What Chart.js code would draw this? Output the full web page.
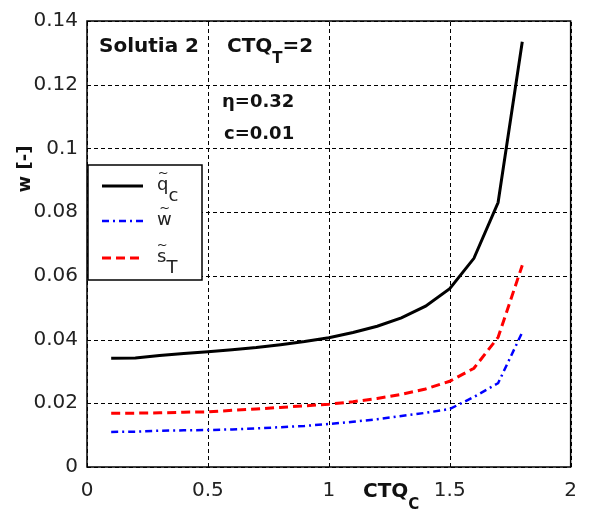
<!DOCTYPE html>
<html>
<head>
<meta charset="utf-8">
<script src="https://cdn.jsdelivr.net/npm/chart.js@4.4.0/dist/chart.umd.min.js"></script>
<style>
  html, body { margin: 0; padding: 0; background: #fff; }
  #wrap { width: 589px; height: 512px; }
</style>
</head>
<body>
<div id="wrap"><canvas id="chart" width="589" height="512"></canvas></div>
<script>
// CTQ_C values along the x axis
const ctqC = [0.1, 0.2, 0.3, 0.4, 0.5, 0.6, 0.7, 0.8, 0.9, 1.0, 1.1, 1.2, 1.3, 1.4, 1.5, 1.6, 1.7, 1.8];
// series
const qC = [0.0341, 0.0342, 0.0350, 0.0356, 0.0362, 0.0368, 0.0375, 0.0384, 0.0394, 0.0406, 0.0422, 0.0442, 0.0468, 0.0505, 0.0560, 0.0655, 0.0830, 0.1335];
const wT = [0.0110, 0.0111, 0.0114, 0.0115, 0.0116, 0.0118, 0.0121, 0.0125, 0.0129, 0.0135, 0.0142, 0.0150, 0.0160, 0.0170, 0.0182, 0.0220, 0.0263, 0.0423];
const sT = [0.0169, 0.0169, 0.0170, 0.0172, 0.0173, 0.0178, 0.0182, 0.0187, 0.0192, 0.0197, 0.0205, 0.0215, 0.0228, 0.0245, 0.0269, 0.0310, 0.0407, 0.0633];
const xTicks = [0, 0.5, 1, 1.5, 2];
const yTicks = [0, 0.02, 0.04, 0.06, 0.08, 0.1, 0.12, 0.14];

const FONT = '"DejaVu Sans", sans-serif';

function pts(ys) {
  return ctqC.map((x, i) => ({ x: x, y: ys[i] }));
}

// dashed grid drawn under the curves (MATLAB "grid on")
const dashedGrid = {
  id: 'dashedGrid',
  beforeDatasetsDraw(chart) {
    const { ctx, chartArea: a, scales } = chart;
    ctx.save();
    ctx.strokeStyle = '#000';
    ctx.lineWidth = 1;
    ctx.setLineDash([4, 3]);
    xTicks.forEach(v => {
      const px = Math.round(scales.x.getPixelForValue(v)) + 0.5;
      ctx.beginPath();
      ctx.moveTo(px, a.bottom);
      ctx.lineTo(px, a.top);
      ctx.stroke();
    });
    yTicks.forEach(v => {
      const py = Math.round(scales.y.getPixelForValue(v)) + 0.5;
      ctx.beginPath();
      ctx.moveTo(a.left, py);
      ctx.lineTo(a.right, py);
      ctx.stroke();
    });
    ctx.restore();
  }
};

// plot box, legend and the text notes
const overlay = {
  id: 'overlay',
  afterDatasetsDraw(chart) {
    const { ctx, chartArea: a } = chart;
    ctx.save();
    ctx.setLineDash([]);
    ctx.strokeStyle = '#000';
    ctx.lineWidth = 1.5;
    ctx.strokeRect(a.left, a.top, a.right - a.left, a.bottom - a.top);

    // legend
    const lx = a.left + 1, ly = 165, lw = 114, lh = 115;
    ctx.fillStyle = '#fff';
    ctx.fillRect(lx, ly, lw, lh);
    ctx.strokeRect(lx, ly, lw, lh);
    const rows = [
      { y: 186, color: '#000', dash: [], width: 3, base: 'q', sub: 'c' },
      { y: 221, color: '#0000ff', dash: [7, 4, 2, 4], width: 2.5, base: 'w', sub: '' },
      { y: 258, color: '#ff0000', dash: [9, 5], width: 3, base: 's', sub: 'T' }
    ];
    rows.forEach(r => {
      ctx.beginPath();
      ctx.strokeStyle = r.color;
      ctx.lineWidth = r.width;
      ctx.setLineDash(r.dash);
      ctx.moveTo(102, r.y);
      ctx.lineTo(143, r.y);
      ctx.stroke();
      ctx.setLineDash([]);
      ctx.fillStyle = '#222';
      ctx.textAlign = 'left';
      ctx.textBaseline = 'alphabetic';
      ctx.font = '18px ' + FONT;
      ctx.fillText(r.base, 157, r.y + 4);
      const bw = ctx.measureText(r.base).width;
      ctx.font = '13px ' + FONT;
      ctx.fillText('~', 157 + bw / 2 - 5, r.y - 9);
      if (r.sub) {
        ctx.font = '18px ' + FONT;
        ctx.fillText(r.sub, 157 + bw, r.y + 15);
      }
    });

    // notes
    ctx.fillStyle = '#111';
    ctx.textAlign = 'left';
    ctx.textBaseline = 'alphabetic';
    ctx.font = 'bold 20px ' + FONT;
    ctx.fillText('Solutia 2', 99, 52);
    ctx.fillText('CTQ', 227, 52);
    let w = ctx.measureText('CTQ').width;
    ctx.font = 'bold 15px ' + FONT;
    ctx.fillText('T', 227 + w, 63);
    let w2 = ctx.measureText('T').width;
    ctx.font = 'bold 20px ' + FONT;
    ctx.fillText('=2', 227 + w + w2, 52);
    ctx.font = 'bold 18px ' + FONT;
    ctx.fillText('\u03b7=0.32', 222, 107);
    ctx.fillText('c=0.01', 224, 139);

    // axis titles
    ctx.font = 'bold 20px ' + FONT;
    ctx.fillText('CTQ', 363, 497);
    w = ctx.measureText('CTQ').width;
    ctx.font = 'bold 15px ' + FONT;
    ctx.fillText('C', 363 + w, 509);

    ctx.save();
    ctx.translate(30, 169);
    ctx.rotate(-Math.PI / 2);
    ctx.textAlign = 'center';
    ctx.font = 'bold 18px ' + FONT;
    ctx.fillText('w [-]', 0, 0);
    ctx.restore();
    ctx.restore();
  }
};

new Chart(document.getElementById('chart'), {
  type: 'scatter',
  data: {
    datasets: [
      { label: 'q_c', data: pts(qC), showLine: true, borderColor: '#000', borderWidth: 3, pointRadius: 0, tension: 0 },
      { label: 'w', data: pts(wT), showLine: true, borderColor: '#0000ff', borderWidth: 2.5, borderDash: [7, 4, 2, 4], pointRadius: 0, tension: 0 },
      { label: 's_T', data: pts(sT), showLine: true, borderColor: '#ff0000', borderWidth: 3, borderDash: [9, 5], pointRadius: 0, tension: 0 }
    ]
  },
  options: {
    responsive: false,
    animation: false,
    layout: { padding: { top: 20, right: 7, left: 0, bottom: 0 } },
    plugins: { legend: { display: false }, tooltip: { enabled: false } },
    scales: {
      x: {
        type: 'linear', min: 0, max: 2,
        afterBuildTicks: s => { s.ticks = xTicks.map(v => ({ value: v })); },
        afterFit: s => { s.height = 45; },
        grid: { display: false, drawTicks: false },
        border: { display: false },
        ticks: { color: '#222', padding: 12, font: { family: FONT, size: 20 }, callback: v => String(v) }
      },
      y: {
        type: 'linear', min: 0, max: 0.14,
        afterBuildTicks: s => { s.ticks = yTicks.map(v => ({ value: v })); },
        afterFit: s => { s.width = 87; },
        grid: { display: false, drawTicks: false },
        border: { display: false },
        ticks: { color: '#222', padding: 9, font: { family: FONT, size: 20 }, callback: v => String(Number(v.toFixed(2))) }
      }
    }
  },
  plugins: [dashedGrid, overlay]
});
</script>
</body>
</html>
